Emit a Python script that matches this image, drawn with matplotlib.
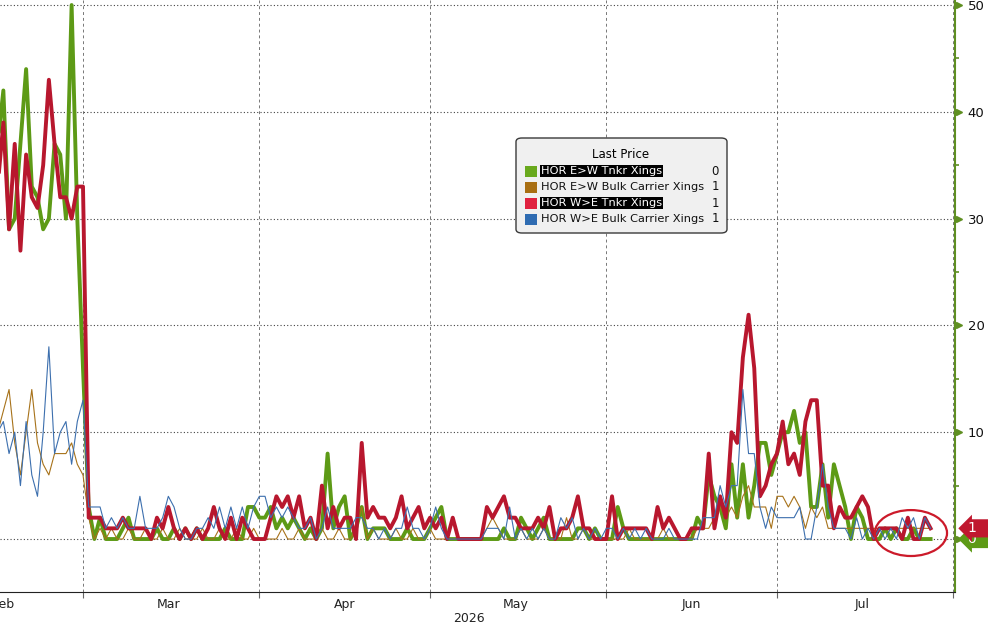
import matplotlib
matplotlib.use('Agg')
import matplotlib.pyplot as plt
import matplotlib.transforms as mtransforms
import matplotlib.dates as mdates
from matplotlib.patches import Ellipse, FancyBboxPatch, Rectangle
import pandas as pd

dates = pd.date_range('2026-02-14', '2026-07-28', freq='D')

# HOR E>W Tnkr Xings  (Feb 14-28, Mar, Apr, May, Jun, Jul 1-28)
green = [37, 42, 29, 30, 37, 44, 33, 32, 29, 30, 37, 36, 30, 50, 30,
         16, 3, 0, 2, 0, 0, 0, 1, 2, 0, 0, 0, 0, 1, 0, 0, 1, 0, 1, 0, 1, 0, 0, 0, 0, 1, 0, 0, 0, 3, 3,
         2, 2, 3, 1, 2, 1, 2, 1, 0, 1, 0, 1, 8, 1, 3, 4, 0, 1, 3, 0, 1, 1, 1, 0, 0, 0, 1, 0, 0, 0,
         1, 2, 3, 0, 0, 0, 0, 0, 0, 0, 0, 0, 0, 1, 0, 0, 2, 1, 0, 1, 2, 0, 0, 0, 0, 0, 1, 1, 0, 1, 0,
         0, 0, 3, 1, 0, 0, 0, 0, 0, 0, 0, 0, 0, 0, 0, 0, 2, 1, 6, 4, 3, 1, 7, 2, 7, 2, 5, 9, 9, 6,
         8, 10, 10, 12, 9, 10, 3, 3, 7, 2, 7, 5, 3, 0, 3, 2, 0, 0, 0, 1, 0, 1, 0, 0, 1, 0, 0, 0]

# HOR E>W Bulk Carrier Xings
brown = [10, 12, 14, 9, 6, 10, 14, 9, 7, 6, 8, 8, 8, 9, 7,
         6, 2, 0, 1, 0, 1, 0, 0, 1, 0, 0, 1, 0, 0, 1, 0, 0, 1, 0, 0, 0, 1, 0, 0, 1, 0, 0, 1, 0, 0, 1,
         0, 0, 0, 0, 1, 0, 0, 1, 0, 0, 0, 1, 0, 0, 1, 0, 0, 1, 3, 0, 1, 0, 0, 0, 1, 0, 0, 1, 0, 0,
         1, 0, 0, 0, 0, 0, 0, 0, 0, 0, 1, 2, 1, 0, 0, 0, 1, 0, 0, 0, 1, 0, 0, 0, 2, 0, 0, 1, 0, 0, 0,
         0, 0, 0, 0, 1, 0, 0, 0, 0, 0, 1, 0, 0, 0, 0, 0, 1, 1, 1, 2, 3, 2, 3, 2, 4, 5, 3, 3, 3, 1,
         4, 4, 3, 4, 3, 1, 3, 2, 3, 1, 1, 1, 1, 1, 1, 1, 1, 1, 1, 1, 1, 1, 1, 1, 1, 1, 1, 1]

# HOR W>E Tnkr Xings
red = [33, 39, 29, 37, 27, 36, 32, 31, 35, 43, 37, 32, 32, 30, 33,
       33, 2, 2, 2, 1, 1, 1, 2, 1, 1, 1, 1, 0, 2, 1, 3, 1, 0, 1, 0, 1, 0, 1, 3, 1, 0, 2, 0, 2, 1, 0,
       0, 0, 2, 4, 3, 4, 2, 4, 1, 2, 0, 5, 1, 3, 1, 2, 2, 0, 9, 2, 3, 2, 2, 1, 2, 4, 1, 2, 3, 1,
       2, 1, 2, 0, 2, 0, 0, 0, 0, 0, 3, 2, 3, 4, 2, 2, 1, 1, 1, 2, 1, 3, 0, 1, 1, 2, 4, 1, 1, 0, 0,
       0, 4, 0, 1, 1, 1, 1, 1, 0, 3, 1, 2, 1, 0, 0, 1, 1, 1, 8, 1, 4, 2, 10, 9, 17, 21, 16, 4, 5, 7,
       8, 11, 7, 8, 6, 11, 13, 13, 5, 5, 1, 3, 2, 2, 3, 4, 3, 0, 1, 1, 1, 1, 0, 2, 0, 0, 2, 1]

# HOR W>E Bulk Carrier Xings
blue = [10, 11, 8, 10, 5, 11, 6, 4, 10, 18, 8, 10, 11, 7, 11,
        13, 3, 3, 3, 1, 2, 1, 2, 1, 1, 4, 1, 1, 1, 2, 4, 3, 1, 0, 0, 1, 1, 2, 1, 3, 1, 3, 1, 3, 1, 3,
        4, 4, 2, 3, 2, 3, 2, 1, 1, 2, 0, 1, 3, 1, 1, 1, 1, 2, 2, 1, 1, 0, 1, 0, 1, 1, 3, 1, 1, 0,
        1, 3, 1, 0, 0, 0, 0, 0, 0, 0, 1, 1, 1, 0, 3, 0, 1, 0, 1, 0, 1, 0, 0, 2, 1, 2, 0, 1, 0, 1, 0,
        1, 1, 0, 1, 0, 1, 0, 1, 0, 0, 0, 1, 0, 0, 0, 0, 0, 2, 2, 2, 5, 3, 5, 5, 14, 8, 8, 3, 1, 3,
        2, 2, 2, 2, 3, 0, 0, 3, 7, 3, 1, 1, 1, 0, 2, 0, 1, 0, 1, 0, 1, 0, 2, 1, 2, 0, 2, 1]

names = ['HOR E>W Tnkr Xings', 'HOR E>W Bulk Carrier Xings',
         'HOR W>E Tnkr Xings', 'HOR W>E Bulk Carrier Xings']
month_names = ['Feb', 'Mar', 'Apr', 'May', 'Jun', 'Jul']
month_mid = pd.to_datetime(['2026-02-15', '2026-03-16', '2026-04-16',
                            '2026-05-16', '2026-06-16', '2026-07-16'])
month_starts = pd.date_range('2026-03-01', '2026-08-01', freq='MS')

c_green, c_brown, c_red, c_blue = '#5d9a16', '#a7721a', '#b8172e', '#3c6fae'
leg_cols = ['#69a91d', '#a86e12', '#e0213f', '#2f6cb2']
axis_green = '#5f8f22'

fig = plt.figure(figsize=(9.88, 6.26), dpi=100)
ax = fig.add_axes([0, 1 - 592 / 626, 955 / 988, 592 / 626])

ax.plot(dates, green, color=c_green, lw=2.8, zorder=3)
ax.plot(dates, brown, color=c_brown, lw=0.8, zorder=4)
ax.plot(dates, red, color=c_red, lw=2.8, zorder=5)
ax.plot(dates, blue, color=c_blue, lw=0.8, zorder=6)

ax.set_xlim(pd.Timestamp('2026-02-14 09:50'), pd.Timestamp('2026-08-01 07:00'))
ax.set_ylim(-4.96, 50.47)

for s in ['left', 'top']:
    ax.spines[s].set_visible(False)
ax.spines['right'].set_color(axis_green)
ax.spines['right'].set_linewidth(1.5)
ax.spines['bottom'].set_color('#222222')

# y axis on the right
ax.yaxis.tick_right()
ax.set_yticks(range(0, 51, 10))
ax.set_yticks(range(5, 50, 10), minor=True)
ax.tick_params(axis='y', which='major', length=0, pad=9, labelsize=9.5, labelcolor='#111111')
ax.tick_params(axis='y', which='minor', length=3, width=1.2, color=axis_green)
trans = mtransforms.blended_transform_factory(ax.transAxes, ax.transData)
ax.plot([1.004] * 6, list(range(0, 51, 10)), linestyle='none', marker='>', ms=5,
        color=axis_green, transform=trans, clip_on=False, zorder=7)

# x axis: ticks at month starts, labels mid-month
ax.set_xticks(month_starts)
ax.set_xticklabels([])
ax.set_xticks(month_mid, labels=month_names, minor=True)
ax.tick_params(axis='x', which='major', length=4, color='#666666')
ax.tick_params(axis='x', which='minor', length=0, pad=4, labelsize=9, labelcolor='#222222')

ax.grid(axis='x', which='major', linestyle=(0, (3, 3)), color='#777777', lw=0.7)
ax.grid(axis='y', which='major', linestyle=(0, (1, 2)), color='#444444', lw=0.8)

fig.text(469 / 988, 1 - 618 / 626, '2026', ha='center', va='center', fontsize=9, color='#222222')

# last value tags
ax.text(968 / 955, green[-1], '%d   ' % green[-1], transform=trans, ha='left', va='center',
        color='white', fontsize=10, clip_on=False, zorder=9,
        bbox=dict(boxstyle='larrow,pad=0.15', fc='#5d9a16', ec='none'))
ax.text(968 / 955, red[-1], '%d   ' % red[-1], transform=trans, ha='left', va='center',
        color='white', fontsize=10, clip_on=False, zorder=10,
        bbox=dict(boxstyle='larrow,pad=0.15', fc='#c0182f', ec='none'))

# red circle around the latest readings
ax.add_patch(Ellipse((mdates.date2num(pd.Timestamp('2026-07-24 13:00')), 0.56), 12.7, 4.3,
                     fill=False, ec='#cc1a2a', lw=1.6, clip_on=False, zorder=8))


# legend box (drawn by hand, Bloomberg style)
def fx(px):
    return px / 988


def fy(py):
    return 1 - py / 626


box = FancyBboxPatch((fx(516), fy(233)), fx(727) - fx(516), fy(138) - fy(233),
                     boxstyle='round,pad=0,rounding_size=0.006', transform=fig.transFigure,
                     fc='#f0f0f0', ec='#3a3a3a', lw=1, zorder=10)
fig.add_artist(box)
fig.text(fx(621), fy(155), 'Last Price', ha='center', va='center', fontsize=8.5, zorder=11)
lasts = [green[-1], brown[-1], red[-1], blue[-1]]
for i, name in enumerate(names):
    yy = 171 + 16 * i
    fig.add_artist(Rectangle((fx(525), fy(yy + 5.5)), 12 / 988, 11 / 626,
                             transform=fig.transFigure, fc=leg_cols[i], ec='none', zorder=11))
    if i in (0, 2):
        fig.text(fx(541), fy(yy), name, ha='left', va='center', fontsize=8.2, color='white', zorder=11,
                 bbox=dict(boxstyle='square,pad=0.08', fc='black', ec='none'))
    else:
        fig.text(fx(541), fy(yy), name, ha='left', va='center', fontsize=8.2, color='#111111', zorder=11)
    fig.text(fx(719), fy(yy), str(lasts[i]), ha='right', va='center', fontsize=8.5, color='#111111', zorder=11)

fig.savefig('out.png', dpi=100)
